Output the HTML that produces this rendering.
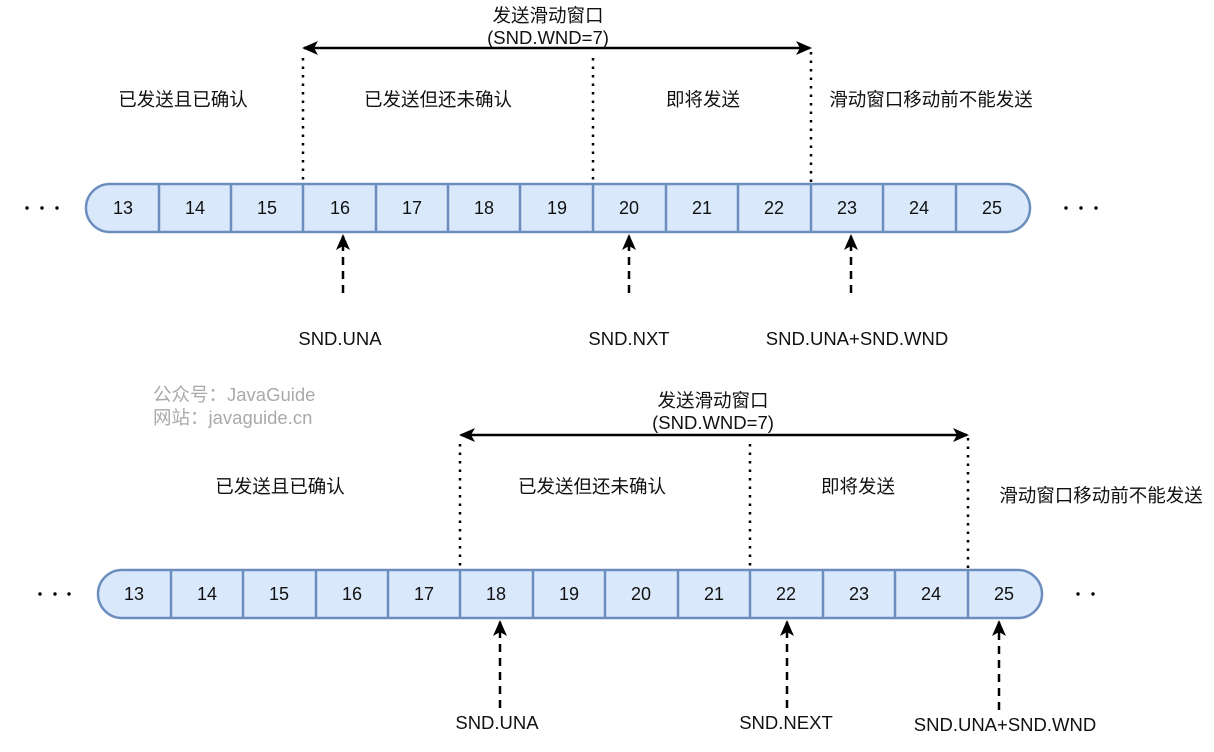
<!DOCTYPE html>
<html><head><meta charset="utf-8"><style>
html,body{margin:0;padding:0;background:#fff;}
svg{display:block;}
text{font-family:"Liberation Sans","Noto Sans CJK SC",sans-serif;font-size:18.5px;fill:#111;}
.g{fill:#aaa;font-size:18.5px;}
.n{font-size:18px;}
</style></head><body>
<svg width="1214" height="752" viewBox="0 0 1214 752" xmlns="http://www.w3.org/2000/svg">
<defs>
<marker id="ahs" viewBox="0 0 16 16" markerWidth="16" markerHeight="16" refX="14" refY="8" orient="auto-start-reverse" markerUnits="userSpaceOnUse">
<path d="M0,1 L16,8 L0,15 L4,8 Z" fill="#000"/>
</marker>
</defs>

<!-- TOP -->
<text x="548" y="22" text-anchor="middle">发送滑动窗口</text>
<text x="548" y="44" text-anchor="middle">(SND.WND=7)</text>
<line x1="304" y1="48" x2="810" y2="48" stroke="#000" stroke-width="2.5" marker-start="url(#ahs)" marker-end="url(#ahs)"/>
<g stroke="#000" stroke-width="2.5" stroke-dasharray="2.5,6" fill="none">
<line x1="303" y1="58" x2="303" y2="183"/>
<line x1="593" y1="58" x2="593" y2="183"/>
<line x1="811" y1="52" x2="811" y2="183"/>
</g>
<text x="183" y="106" text-anchor="middle">已发送且已确认</text>
<text x="438" y="106" text-anchor="middle">已发送但还未确认</text>
<text x="703" y="106" text-anchor="middle">即将发送</text>
<text x="931" y="106" text-anchor="middle">滑动窗口移动前不能发送</text>

<rect x="86" y="184" width="944" height="48" rx="24" ry="24" fill="#dae8fc" stroke="#6c8ebf" stroke-width="2.5"/>
<g stroke="#6c8ebf" stroke-width="2.5">
<line x1="159" y1="184" x2="159" y2="232"/><line x1="231" y1="184" x2="231" y2="232"/>
<line x1="303" y1="184" x2="303" y2="232"/><line x1="376" y1="184" x2="376" y2="232"/>
<line x1="448" y1="184" x2="448" y2="232"/><line x1="520" y1="184" x2="520" y2="232"/>
<line x1="593" y1="184" x2="593" y2="232"/><line x1="666" y1="184" x2="666" y2="232"/>
<line x1="738" y1="184" x2="738" y2="232"/><line x1="811" y1="184" x2="811" y2="232"/>
<line x1="883" y1="184" x2="883" y2="232"/><line x1="956" y1="184" x2="956" y2="232"/>
</g>
<g text-anchor="middle" class="n">
<text class="n" x="123" y="214">13</text><text class="n" x="195" y="214">14</text><text class="n" x="267" y="214">15</text>
<text class="n" x="340" y="214">16</text><text class="n" x="412" y="214">17</text><text class="n" x="484" y="214">18</text>
<text class="n" x="557" y="214">19</text><text class="n" x="629" y="214">20</text><text class="n" x="702" y="214">21</text>
<text class="n" x="774" y="214">22</text><text class="n" x="847" y="214">23</text><text class="n" x="919" y="214">24</text>
<text class="n" x="992" y="214">25</text>
</g>
<g fill="#000"><circle cx="27" cy="208" r="1.7"/><circle cx="42" cy="208" r="1.7"/><circle cx="57" cy="208" r="1.7"/>
<circle cx="1066" cy="208" r="1.7"/><circle cx="1081" cy="208" r="1.7"/><circle cx="1096" cy="208" r="1.7"/></g>

<g stroke="#000" stroke-width="2.5" stroke-dasharray="8,6" fill="none">
<line x1="343" y1="293" x2="343" y2="236" marker-end="url(#ahs)"/>
<line x1="629" y1="293" x2="629" y2="236" marker-end="url(#ahs)"/>
<line x1="851" y1="293" x2="851" y2="236" marker-end="url(#ahs)"/>
</g>
<text x="340" y="345" text-anchor="middle">SND.UNA</text>
<text x="629" y="345" text-anchor="middle">SND.NXT</text>
<text x="857" y="345" text-anchor="middle">SND.UNA+SND.WND</text>

<!-- watermark -->
<text x="153" y="401" class="g">公众号：JavaGuide</text>
<text x="153" y="424" class="g">网站：javaguide.cn</text>

<!-- BOTTOM -->
<text x="713" y="407" text-anchor="middle">发送滑动窗口</text>
<text x="713" y="429" text-anchor="middle">(SND.WND=7)</text>
<line x1="461" y1="435" x2="967" y2="435" stroke="#000" stroke-width="2.5" marker-start="url(#ahs)" marker-end="url(#ahs)"/>
<g stroke="#000" stroke-width="2.5" stroke-dasharray="2.5,6" fill="none">
<line x1="460" y1="444" x2="460" y2="569"/>
<line x1="750" y1="444" x2="750" y2="569"/>
<line x1="968" y1="438" x2="968" y2="569"/>
</g>
<text x="280" y="493" text-anchor="middle">已发送且已确认</text>
<text x="592" y="493" text-anchor="middle">已发送但还未确认</text>
<text x="858" y="493" text-anchor="middle">即将发送</text>
<text x="1101" y="502" text-anchor="middle">滑动窗口移动前不能发送</text>

<rect x="98" y="570" width="944" height="48" rx="24" ry="24" fill="#dae8fc" stroke="#6c8ebf" stroke-width="2.5"/>
<g stroke="#6c8ebf" stroke-width="2.5">
<line x1="171" y1="570" x2="171" y2="618"/><line x1="243" y1="570" x2="243" y2="618"/>
<line x1="316" y1="570" x2="316" y2="618"/><line x1="388" y1="570" x2="388" y2="618"/>
<line x1="460" y1="570" x2="460" y2="618"/><line x1="533" y1="570" x2="533" y2="618"/>
<line x1="605" y1="570" x2="605" y2="618"/><line x1="678" y1="570" x2="678" y2="618"/>
<line x1="750" y1="570" x2="750" y2="618"/><line x1="823" y1="570" x2="823" y2="618"/>
<line x1="895" y1="570" x2="895" y2="618"/><line x1="968" y1="570" x2="968" y2="618"/>
</g>
<g text-anchor="middle">
<text class="n" x="134" y="600">13</text><text class="n" x="207" y="600">14</text><text class="n" x="279" y="600">15</text>
<text class="n" x="352" y="600">16</text><text class="n" x="424" y="600">17</text><text class="n" x="496" y="600">18</text>
<text class="n" x="569" y="600">19</text><text class="n" x="641" y="600">20</text><text class="n" x="714" y="600">21</text>
<text class="n" x="786" y="600">22</text><text class="n" x="859" y="600">23</text><text class="n" x="931" y="600">24</text>
<text class="n" x="1004" y="600">25</text>
</g>
<g fill="#000"><circle cx="40" cy="594" r="1.7"/><circle cx="55" cy="594" r="1.7"/><circle cx="69" cy="594" r="1.7"/>
<circle cx="1078" cy="594" r="1.7"/><circle cx="1093" cy="594" r="1.7"/></g>

<g stroke="#000" stroke-width="2.5" stroke-dasharray="8,6" fill="none">
<line x1="500" y1="708" x2="500" y2="622" marker-end="url(#ahs)"/>
<line x1="787" y1="708" x2="787" y2="622" marker-end="url(#ahs)"/>
<line x1="999" y1="710" x2="999" y2="622" marker-end="url(#ahs)"/>
</g>
<text x="497" y="729" text-anchor="middle">SND.UNA</text>
<text x="786" y="729" text-anchor="middle">SND.NEXT</text>
<text x="1005" y="731" text-anchor="middle">SND.UNA+SND.WND</text>
</svg>
</body></html>
